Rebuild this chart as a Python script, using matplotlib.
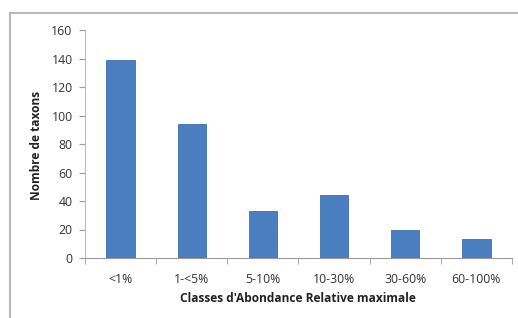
import matplotlib
matplotlib.use("Agg")
import matplotlib.pyplot as plt
from matplotlib.lines import Line2D

categories = ["<1%", "1-<5%", "5-10%", "10-30%", "30-60%", "60-100%"]
values = [139, 94, 33, 44, 20, 13]
yticks = [0, 20, 40, 60, 80, 100, 120, 140, 160]

plt.rcParams['font.family'] = ['Open Sans', 'DejaVu Sans']

W, H = 518, 318
fig = plt.figure(figsize=(W/100, H/100), dpi=100)
fig.patch.set_facecolor('white')

# outer chart frame (top and left edges visible)
fig.add_artist(Line2D([10/W, 10/W], [0, 1 - 13/H], transform=fig.transFigure, color='#b8b8b8', lw=1.5))
fig.add_artist(Line2D([10/W, 1], [1 - 13/H, 1 - 13/H], transform=fig.transFigure, color='#b8b8b8', lw=1.5))

ax = fig.add_axes([85/W, 1 - 258/H, (512-85)/W, (258-30)/H])
x = list(range(len(categories)))
ax.bar(x, values, width=0.4, color='#4A7EC0', edgecolor='#3f70ae', linewidth=0.6, zorder=3)

ax.set_xlim(-0.5, len(categories) - 0.5)
ax.set_ylim(0, 160)
ax.set_yticks(yticks)
ax.set_yticklabels([str(v) for v in yticks], fontsize=8.8, color='#333333')
ax.set_xticks(x)
ax.set_xticklabels(categories, fontsize=8.8, color='#333333')
ax.tick_params(axis='x', length=0, pad=11)
ax.set_xticks([i + 0.5 for i in range(-1, len(categories))], minor=True)
ax.tick_params(axis='x', which='minor', length=4, color='#999999', direction='out')
ax.tick_params(axis='y', length=4, color='#999999', pad=5)

for s in ['top', 'right']:
    ax.spines[s].set_visible(False)
ax.spines['left'].set_color('#bbbbbb')
ax.spines['bottom'].set_color('#999999')
ax.spines['left'].set_linewidth(0.8)
ax.spines['bottom'].set_linewidth(0.8)

fig.text(37/W, 1 - 145/H, "Nombre de taxons", rotation=90, ha='center', va='center',
         fontsize=8.6, fontweight='bold', color='#222222')
fig.text(298/W, 1 - 298/H, "Classes d'Abondance Relative maximale", ha='center', va='center',
         fontsize=8.6, fontweight='bold', color='#222222')

fig.savefig("out.png", dpi=100)
